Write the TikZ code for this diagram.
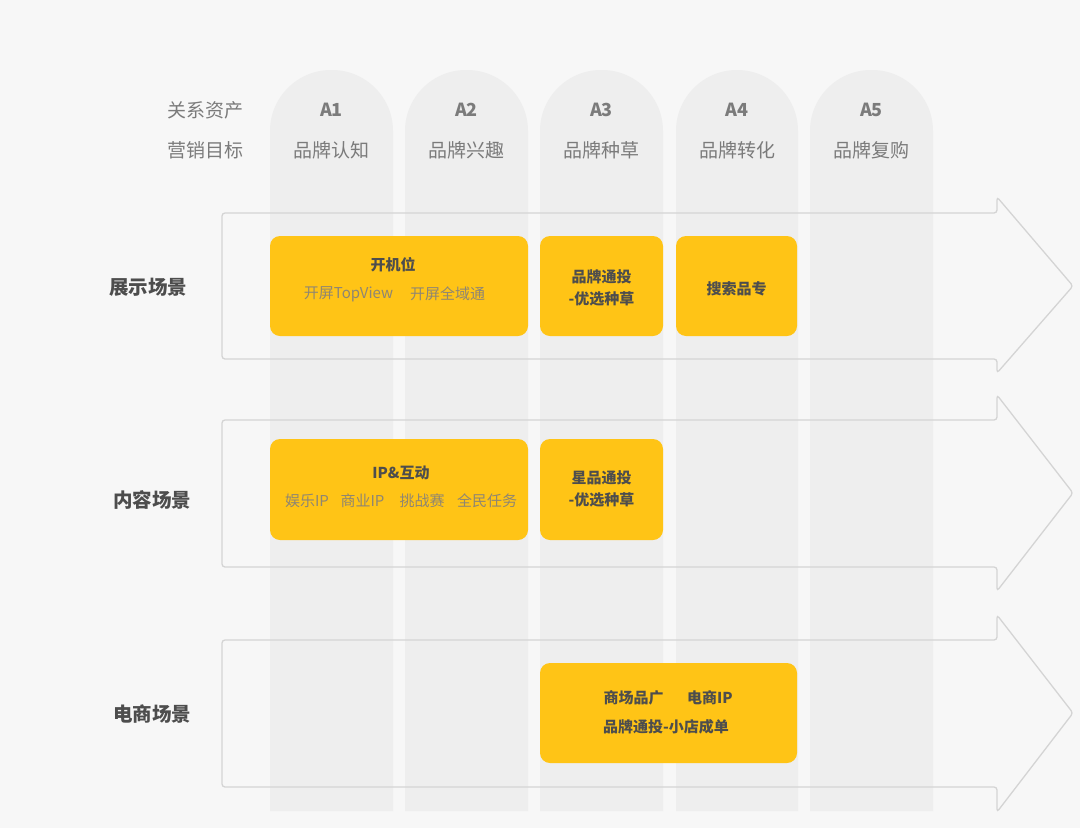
\documentclass[tikz,border=0pt]{standalone}
\usepackage{fontspec}
\setmainfont{Noto Sans CJK SC}
\definecolor{bg}{HTML}{F7F7F7}
\definecolor{colfill}{HTML}{EEEEEE}
\definecolor{ylw}{HTML}{FFC416}
\definecolor{darktxt}{HTML}{4D4D4D}
\definecolor{subtxt}{HTML}{8F8672}
\definecolor{headtxt}{HTML}{7B7B7B}
\definecolor{arrline}{HTML}{D4D4D4}
\begin{document}
\begin{tikzpicture}[x=1pt,y=-1pt,
  ybox/.style={fill=ylw,rounded corners=10pt,inner sep=0pt},
  boxtitle/.style={font=\fontsize{15}{18}\selectfont\bfseries,text=darktxt,inner sep=0pt},
  boxsub/.style={font=\fontsize{15}{18}\selectfont,text=subtxt,inner sep=0pt},
  headlbl/.style={font=\fontsize{19}{22}\selectfont,text=headtxt,inner sep=0pt},
  headA/.style={font=\fontsize{18}{22}\selectfont\bfseries,text=headtxt,inner sep=0pt},
  rowlbl/.style={font=\fontsize{19.5}{22}\selectfont\bfseries,text=darktxt,inner sep=0pt},
  arrowline/.style={draw=arrline,line width=1.3pt,rounded corners=3pt}]
\useasboundingbox (0,0) rectangle (1080,828);
\fill[bg] (0,0) rectangle (1080,828);
% columns
\foreach \xl/\xr in {270/393,405/528,540/663,676/798,810/933}{
  \fill[colfill,rounded corners=61pt] (\xl,811) -- (\xl,70) -- (\xr,70) -- (\xr,811);
}
% arrows
\draw[arrowline] (997,213) -- (222,213) -- (222,359) -- (997,359) -- (997,373) -- (1073,286) -- (997,197) -- cycle;
\draw[arrowline] (997,420) -- (222,420) -- (222,567) -- (997,567) -- (997,591) -- (1073,493) -- (997,395) -- cycle;
\draw[arrowline] (997,640) -- (222,640) -- (222,787) -- (997,787) -- (997,812) -- (1073,713) -- (997,615) -- cycle;
% header
\node[headlbl] (h1) at (205,110) {关系资产};
\node[headlbl] (h2) at (205,150) {营销目标};
\foreach \cx/\a/\t [count=\i] in {331.5/A1/品牌认知,466.5/A2/品牌兴趣,601.5/A3/品牌种草,737/A4/品牌转化,871.5/A5/品牌复购}{
  \node[headA] (a\i) at (\cx,110) {\a};
  \node[headlbl] (g\i) at (\cx,150) {\t};
}
% row labels
\node[rowlbl] (r1) at (148,287) {展示场景};
\node[rowlbl] (r2) at (152,500) {内容场景};
\node[rowlbl] (r3) at (152,714) {电商场景};
% row 1 boxes
\node[ybox,minimum width=258pt,minimum height=100pt] (b1) at (399,286) {};
\node[boxtitle] (b1t) at (393,265) {开机位};
\node[boxsub] (b1s1) at (348.5,294) {开屏TopView};
\node[boxsub] (b1s2) at (447.5,294) {开屏全域通};
\node[ybox,minimum width=123pt,minimum height=100pt] (b2) at (601.5,286) {};
\node[boxtitle] (b2t1) at (601.5,277) {品牌通投};
\node[boxtitle] (b2t2) at (601.5,299) {-优选种草};
\node[ybox,minimum width=121pt,minimum height=100pt] (b3) at (736.5,286) {};
\node[boxtitle] (b3t) at (736.5,289) {搜索品专};
% row 2 boxes
\node[ybox,minimum width=258pt,minimum height=101pt] (b4) at (399,489.5) {};
\node[boxtitle] (b4t) at (401,473) {IP\&互动};
\node[boxsub] (b4s1) at (307,501) {娱乐IP};
\node[boxsub] (b4s2) at (362.5,501) {商业IP};
\node[boxsub] (b4s3) at (422,501) {挑战赛};
\node[boxsub] (b4s4) at (487,501) {全民任务};
\node[ybox,minimum width=123pt,minimum height=101pt] (b5) at (601.5,489.5) {};
\node[boxtitle] (b5t1) at (601.5,478) {星品通投};
\node[boxtitle] (b5t2) at (601.5,500) {-优选种草};
% row 3 box
\node[ybox,minimum width=257pt,minimum height=100pt] (b6) at (668.5,713) {};
\node[boxtitle] (b6t1) at (633.5,698) {商场品广};
\node[boxtitle] (b6t2) at (710,698) {电商IP};
\node[boxtitle] (b6t3) at (666,727) {品牌通投-小店成单};
\end{tikzpicture}
\end{document}
